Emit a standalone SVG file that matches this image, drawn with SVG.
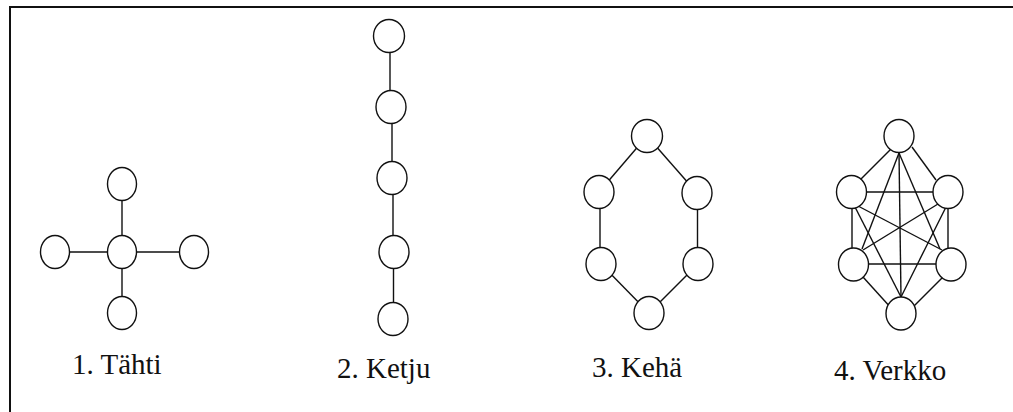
<svg xmlns="http://www.w3.org/2000/svg" width="1013" height="412" viewBox="0 0 1013 412">
<style>
.n{fill:#fff;stroke:#111;stroke-width:1.4}
.e line{stroke:#111;stroke-width:1.4}
.lbl{font-family:'Liberation Serif','DejaVu Serif',serif;font-size:29px;fill:#111}
.frame{stroke:#111;stroke-width:2;fill:none}
</style>
<rect width="1013" height="412" fill="#fff"/>
<path class="frame" d="M10,412 V7 H1013"/>
<g id="connectors" class="e">
<line x1="122" y1="184" x2="122" y2="313"/>
<line x1="55" y1="252" x2="194" y2="252"/>
<line x1="390" y1="36" x2="390" y2="107"/>
<line x1="392" y1="107" x2="392" y2="178"/>
<line x1="393" y1="178" x2="393" y2="252"/>
<line x1="393.5" y1="252" x2="393.5" y2="319"/>
<line x1="647" y1="136" x2="599" y2="192"/>
<line x1="647" y1="136" x2="697" y2="193"/>
<line x1="600" y1="192" x2="600" y2="264"/>
<line x1="697.5" y1="193" x2="697.5" y2="264"/>
<line x1="601" y1="264" x2="649" y2="313"/>
<line x1="698" y1="264" x2="649" y2="313"/>
<line x1="892" y1="148" x2="860" y2="180"/>
<line x1="912" y1="147" x2="936" y2="180"/>
<line x1="866" y1="192" x2="933" y2="192"/>
<line x1="852" y1="207" x2="852" y2="249"/>
<line x1="948" y1="207" x2="948" y2="249"/>
<line x1="869" y1="264" x2="936" y2="264"/>
<line x1="863" y1="277" x2="892" y2="309"/>
<line x1="943" y1="277" x2="912" y2="308"/>
<line x1="899" y1="153" x2="901" y2="297"/>
<line x1="899" y1="153" x2="862" y2="249"/>
<line x1="899" y1="153" x2="940" y2="249"/>
<line x1="855" y1="207" x2="901" y2="297"/>
<line x1="946" y1="207" x2="901" y2="297"/>
<line x1="858" y1="206" x2="942" y2="250"/>
<line x1="938" y1="204" x2="863" y2="250"/>
</g>
<g id="star">
<ellipse class="n" cx="122" cy="184" rx="14.5" ry="16.5"/>
<ellipse class="n" cx="122" cy="252" rx="14.5" ry="16.5"/>
<ellipse class="n" cx="55" cy="252" rx="14.5" ry="16.5"/>
<ellipse class="n" cx="194" cy="252" rx="14.5" ry="16.5"/>
<ellipse class="n" cx="122" cy="313" rx="14.5" ry="16.5"/>
<text class="lbl" x="72" y="374">1. Tähti</text>
</g>
<g id="chain">
<ellipse class="n" cx="389" cy="36" rx="15.5" ry="16.5"/>
<ellipse class="n" cx="391" cy="107" rx="15" ry="16.5"/>
<ellipse class="n" cx="392" cy="178" rx="15" ry="16.5"/>
<ellipse class="n" cx="394" cy="252" rx="15" ry="16.5"/>
<ellipse class="n" cx="393" cy="319" rx="15" ry="16.5"/>
<text class="lbl" x="337" y="378">2. Ketju</text>
</g>
<g id="ring">
<ellipse class="n" cx="647" cy="136" rx="15.5" ry="16.5"/>
<ellipse class="n" cx="599" cy="192" rx="15" ry="16.5"/>
<ellipse class="n" cx="697" cy="193" rx="15" ry="16.5"/>
<ellipse class="n" cx="601" cy="264" rx="15" ry="16.5"/>
<ellipse class="n" cx="698" cy="264" rx="15" ry="16.5"/>
<ellipse class="n" cx="649" cy="313" rx="15" ry="16.5"/>
<text class="lbl" x="592" y="377">3. Kehä</text>
</g>
<g id="mesh">
<ellipse class="n" cx="899" cy="136" rx="15" ry="16.5"/>
<ellipse class="n" cx="851.5" cy="192" rx="15" ry="16.5"/>
<ellipse class="n" cx="948" cy="192" rx="15" ry="16.5"/>
<ellipse class="n" cx="853.5" cy="264.5" rx="15" ry="16.5"/>
<ellipse class="n" cx="951" cy="264.5" rx="15" ry="16.5"/>
<ellipse class="n" cx="901" cy="313.5" rx="15" ry="16.5"/>
<text class="lbl" x="834" y="380">4. Verkko</text>
</g>
</svg>
